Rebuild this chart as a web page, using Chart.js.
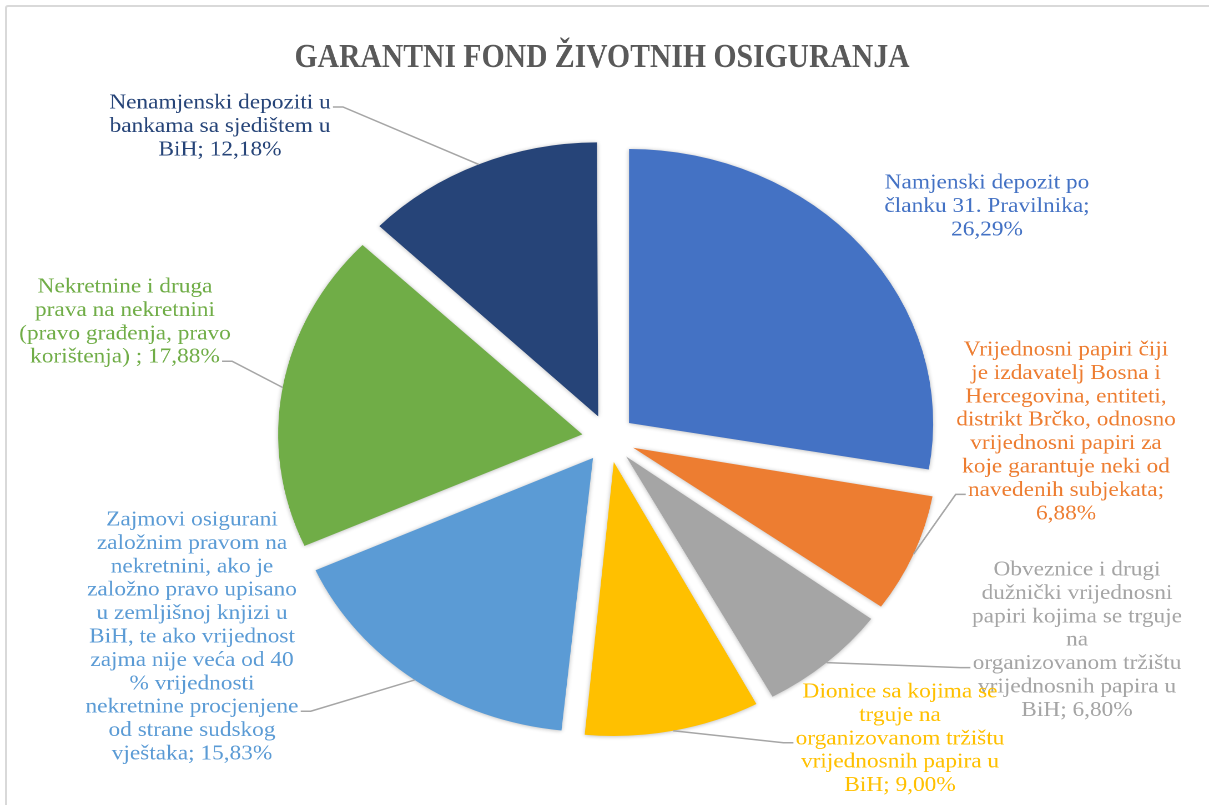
<!DOCTYPE html>
<html>
<head>
<meta charset="utf-8">
<title>Garantni fond životnih osiguranja</title>
<script src="https://cdn.jsdelivr.net/npm/chart.js@4.4.1/dist/chart.umd.min.js"></script>
<style>
  html, body { margin: 0; padding: 0; background: #fff; overflow: hidden; }
  #frame { position: absolute; left: 5px; top: 5px; width: 1300px; height: 900px; border: 2px solid #d9d9d9; border-radius: 3px; box-sizing: border-box; }
  /* the reference picture is stretched horizontally, so the whole chart is too */
  #wrap { position: absolute; left: 0; top: 0; width: 1089px; height: 805px; transform: scaleX(1.1102); transform-origin: 0 0; }
</style>
</head>
<body>
<div id="frame"></div>
<div id="wrap"><canvas id="pieChart" width="1089" height="805"></canvas></div>
<script>
const categories = [
    ['Namjenski depozit po', 'članku 31. Pravilnika'],
    ['Vrijednosni papiri čiji', 'je izdavatelj Bosna i', 'Hercegovina, entiteti,', 'distrikt Brčko, odnosno', 'vrijednosni papiri za', 'koje garantuje neki od', 'navedenih subjekata'],
    ['Obveznice i drugi', 'dužnički vrijednosni', 'papiri kojima se trguje', 'na', 'organizovanom tržištu', 'vrijednosnih papira u', 'BiH'],
    ['Dionice sa kojima se', 'trguje na', 'organizovanom tržištu', 'vrijednosnih papira u', 'BiH'],
    ['Zajmovi osigurani', 'založnim pravom na', 'nekretnini, ako je', 'založno pravo upisano', 'u zemljišnoj knjizi u', 'BiH, te ako vrijednost', 'zajma nije veća od 40', '% vrijednosti', 'nekretnine procjenjene', 'od strane sudskog', 'vještaka'],
    ['Nekretnine i druga', 'prava na nekretnini', '(pravo građenja, pravo', 'korištenja) '],
    ['Nenamjenski depoziti u', 'bankama sa sjedištem u', 'BiH']
];
const shares = [26.29, 6.88, 6.80, 9.00, 15.83, 17.88, 12.18];
const sliceColors = ['#4472C4', '#ED7D31', '#A5A5A5', '#FFC000', '#5B9BD5', '#70AD47', '#264478'];
const titleText = 'GARANTNI FOND ŽIVOTNIH OSIGURANJA';

const SX = 1209 / 1089;   // horizontal stretch of the reference
const RADIUS = 274;
const EXPLODE = 24;       // px each slice is pulled out
const LINE_H = 23.4;

// label blocks, x/y in page pixels (centre x, first line centre y)
const labelLayout = [
    { x: 987, y: 183, valueOnNewLine: true },
    { x: 1066, y: 350, valueOnNewLine: true, leaderLine: 6, side: 'left' },
    { x: 1077, y: 570, leaderLine: 4, side: 'left' },
    { x: 900, y: 692, leaderLine: 2, side: 'left' },
    { x: 192, y: 520, leaderLine: 8, side: 'right' },
    { x: 125, y: 287, leaderLine: 3, side: 'right' },
    { x: 220, y: 103, leaderLine: 0, side: 'right' }
];

function labelLines(i) {
    const value = shares[i].toFixed(2).replace('.', ',') + '%';
    const lines = categories[i].slice();
    if (labelLayout[i].valueOnNewLine) {
        lines[lines.length - 1] += ';';
        lines.push(value);
    } else {
        lines[lines.length - 1] += '; ' + value;
    }
    return lines;
}

const explodedPie = {
    id: 'explodedPie',
    afterDatasetUpdate(chart, args) {
        // chart.js grows small exploded slices; keep one radius for all
        args.meta.data.forEach(arc => {
            const fix = 1 - Math.sin(Math.min(Math.PI, arc.circumference));
            arc.outerRadius = RADIUS - EXPLODE * fix;
        });
    },
    beforeDatasetsDraw(chart) {
        const ctx = chart.ctx;
        ctx.save();
        ctx.shadowColor = 'rgba(0, 0, 0, 0.28)';
        ctx.shadowBlur = 9;
        ctx.shadowOffsetX = 0;
        ctx.shadowOffsetY = 1;
    },
    afterDatasetsDraw(chart) {
        chart.ctx.restore();
    },
    afterDraw(chart) {
        const ctx = chart.ctx;
        const meta = chart.getDatasetMeta(0);

        ctx.save();
        ctx.fillStyle = '#595959';
        ctx.font = 'bold 34px "Liberation Serif"';
        ctx.textAlign = 'center';
        ctx.textBaseline = 'middle';
        ctx.fillText(titleText, 602 / SX, 58, 554);

        ctx.font = '21px "Liberation Serif"';
        labelLayout.forEach((lay, i) => {
            const lines = labelLines(i);
            const cx = lay.x / SX;

            if (lay.leaderLine !== undefined) {
                const arc = meta.data[i];
                const mid = (arc.startAngle + arc.endAngle) / 2;
                const ax = arc.x + Math.cos(mid) * (EXPLODE + RADIUS);
                const ay = arc.y + Math.sin(mid) * (EXPLODE + RADIUS);
                const ly = lay.y + lay.leaderLine * LINE_H + 4;
                const w = ctx.measureText(lines[lay.leaderLine]).width;
                const dir = lay.side === 'left' ? -1 : 1;
                const x0 = cx + dir * (w / 2 + 2);
                const x1 = x0 + dir * 9;
                ctx.beginPath();
                ctx.moveTo(x0, ly);
                ctx.lineTo(x1, ly);
                ctx.lineTo(ax, ay);
                ctx.strokeStyle = '#a6a6a6';
                ctx.lineWidth = 1.5;
                ctx.stroke();
            }

            ctx.fillStyle = sliceColors[i];
            lines.forEach((line, k) => {
                ctx.fillText(line, cx, lay.y + k * LINE_H);
            });
        });
        ctx.restore();
    }
};

const ctxPie = document.getElementById('pieChart').getContext('2d');
new Chart(ctxPie, {
    type: 'pie',
    data: {
        labels: categories,
        datasets: [{
            data: shares,
            backgroundColor: sliceColors,
            borderWidth: 0,
            offset: EXPLODE * 4,
            radius: RADIUS
        }]
    },
    options: {
        responsive: false,
        devicePixelRatio: 2,
        animation: false,
        layout: { padding: { left: 20, right: 12.6, top: 100, bottom: 28 } },
        plugins: {
            legend: { display: false },
            tooltip: { enabled: false }
        }
    },
    plugins: [explodedPie]
});
</script>
</body>
</html>
